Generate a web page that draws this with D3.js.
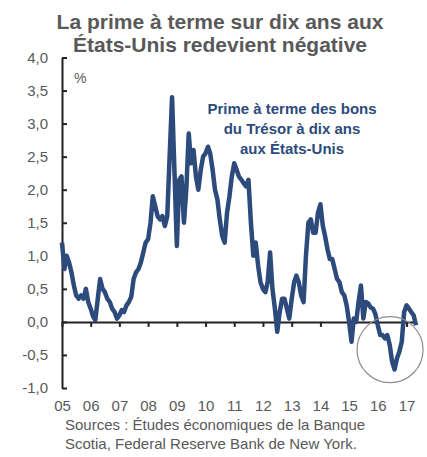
<!DOCTYPE html>
<html>
<head>
<meta charset="utf-8">
<script src="https://cdn.jsdelivr.net/npm/d3@7"></script>
<style>
  body { margin: 0; background: #fff; }
  svg { display: block; font-family: "Liberation Sans", Arial, sans-serif; }
</style>
</head>
<body>
<svg id="chart" width="427" height="457"></svg>
<script>
// monthly term premium, Jan 2005 .. May 2017 (%)
var startYear = 2005;
var termPremium = [
  1.2, 0.8, 1.0, 0.9, 0.75, 0.55, 0.4, 0.35, 0.4, 0.35, 0.5, 0.3,          // 2005
  0.2, 0.08, 0.03, 0.35, 0.65, 0.5, 0.45, 0.35, 0.3, 0.2, 0.15, 0.05,      // 2006
  0.1, 0.18, 0.15, 0.25, 0.3, 0.38, 0.65, 0.75, 0.8, 0.9, 1.05, 1.2,       // 2007
  1.25, 1.5, 1.9, 1.75, 1.6, 1.55, 1.6, 1.45, 1.6, 2.5, 3.4, 2.3,          // 2008
  1.15, 2.15, 2.2, 1.5, 2.0, 2.85, 2.4, 2.6, 2.2, 2.0, 2.3, 2.5,           // 2009
  2.55, 2.65, 2.55, 2.3, 2.0, 1.85, 1.55, 1.3, 1.2, 1.65, 1.9, 2.2,        // 2010
  2.4, 2.3, 2.2, 2.15, 2.1, 2.05, 2.15, 1.5, 1.0, 1.2, 0.85, 0.6,          // 2011
  0.5, 0.45, 0.6, 1.05, 0.5, 0.2, -0.15, 0.15, 0.35, 0.35, 0.2, 0.05,      // 2012
  0.35, 0.6, 0.7, 0.6, 0.4, 0.3, 1.0, 1.5, 1.55, 1.35, 1.35, 1.65,         // 2013
  1.78, 1.45, 1.3, 1.1, 0.95, 0.95, 0.8, 0.65, 0.6, 0.45, 0.4, 0.25,       // 2014
  0.0, -0.3, 0.05, 0.0, 0.3, 0.55, 0.05, 0.3, 0.28, 0.22, 0.2, 0.12,       // 2015
  -0.05, -0.2, -0.2, -0.25, -0.2, -0.35, -0.6, -0.72, -0.55, -0.45, -0.3, 0.15, // 2016
  0.25, 0.2, 0.15, 0.1, -0.05                                               // 2017
];
var yTicks = [-1, -0.5, 0, 0.5, 1, 1.5, 2, 2.5, 3, 3.5, 4];
var titleLines = ["La prime à terme sur dix ans aux", "États-Unis redevient négative"];
var seriesLabel = ["Prime à terme des bons", "du Trésor à dix ans", "aux États-Unis"];
var sourceLines = ["Sources : Études économiques de la Banque", "Scotia, Federal Reserve Bank de New York."];
var highlight = { date: new Date(2016, 5, 5), value: -0.42, r: 33 };

var data = termPremium.map(function (v, i) {
  return { date: new Date(startYear, i, 1), value: v };
});

var svg = d3.select("#chart");
var grey = "#595959";
var blue = "#2c4a7c";

var x = d3.scaleTime()
  .domain([new Date(2005, 0, 1), new Date(2017, 4, 1)])
  .range([62, 416]);
var y = d3.scaleLinear().domain([-1, 4]).range([388, 57.5]);

var fr = d3.formatLocale({ decimal: ",", thousands: " ", grouping: [3], currency: ["", "€"], minus: "-" });
var fmt = fr.format(".1f");

// title
svg.append("text")
  .attr("x", 220).attr("y", 29)
  .attr("text-anchor", "middle")
  .attr("font-size", 21).attr("font-weight", "bold").attr("fill", grey)
  .selectAll("tspan").data(titleLines).join("tspan")
  .attr("x", 220).attr("dy", function (d, i) { return i ? 23 : 0; })
  .text(function (d) { return d; });

// y axis (ticks pointing inward)
svg.append("g")
  .attr("transform", "translate(62,0)")
  .call(d3.axisLeft(y).tickValues(yTicks).tickFormat(fmt).tickSizeInner(-5).tickSizeOuter(0).tickPadding(14))
  .call(function (g) {
    g.select(".domain").attr("stroke", "#222").attr("stroke-width", 2);
    g.selectAll(".tick line").attr("stroke", "#222").attr("stroke-width", 2);
    g.selectAll("text").attr("fill", grey).attr("font-size", 15).attr("font-family", "Liberation Sans, Arial, sans-serif");
  });

svg.append("text")
  .attr("x", 74).attr("y", 83)
  .attr("font-size", 14).attr("fill", grey)
  .text("%");

// zero line with year ticks
var years = d3.timeYear.range(new Date(2005, 0, 1), new Date(2017, 1, 1));
svg.append("g")
  .attr("transform", "translate(0," + y(0) + ")")
  .call(d3.axisBottom(x).tickValues(years).tickFormat("").tickSizeInner(5).tickSizeOuter(0))
  .call(function (g) {
    g.select(".domain").attr("stroke", "#222").attr("stroke-width", 2);
    g.selectAll(".tick line").attr("stroke", "#222").attr("stroke-width", 2);
  });

// year labels at the bottom
svg.append("g")
  .attr("transform", "translate(0,400)")
  .call(d3.axisBottom(x).tickValues(years).tickFormat(d3.timeFormat("%y")).tickSize(0).tickPadding(0))
  .call(function (g) {
    g.select(".domain").remove();
    g.selectAll("text").attr("fill", grey).attr("font-size", 15).attr("font-family", "Liberation Sans, Arial, sans-serif");
  });

// series
var line = d3.line()
  .x(function (d) { return x(d.date); })
  .y(function (d) { return y(d.value); });

svg.append("path")
  .datum(data)
  .attr("d", line)
  .attr("fill", "none")
  .attr("stroke", blue)
  .attr("stroke-width", 4.5)
  .attr("stroke-linejoin", "round");

// highlight circle
svg.append("circle")
  .attr("cx", x(highlight.date))
  .attr("cy", y(highlight.value))
  .attr("r", highlight.r)
  .attr("fill", "none")
  .attr("stroke", "#8c8c8c")
  .attr("stroke-width", 1.2);

// series label
svg.append("text")
  .attr("text-anchor", "middle")
  .attr("font-size", 15).attr("font-weight", "bold").attr("fill", blue)
  .selectAll("tspan").data(seriesLabel).join("tspan")
  .attr("x", 292).attr("y", function (d, i) { return 114 + i * 20; })
  .text(function (d) { return d; });

// sources
svg.append("text")
  .attr("font-size", 15).attr("fill", grey)
  .selectAll("tspan").data(sourceLines).join("tspan")
  .attr("x", 65).attr("y", function (d, i) { return 430 + i * 19; })
  .text(function (d) { return d; });
</script>
</body>
</html>
